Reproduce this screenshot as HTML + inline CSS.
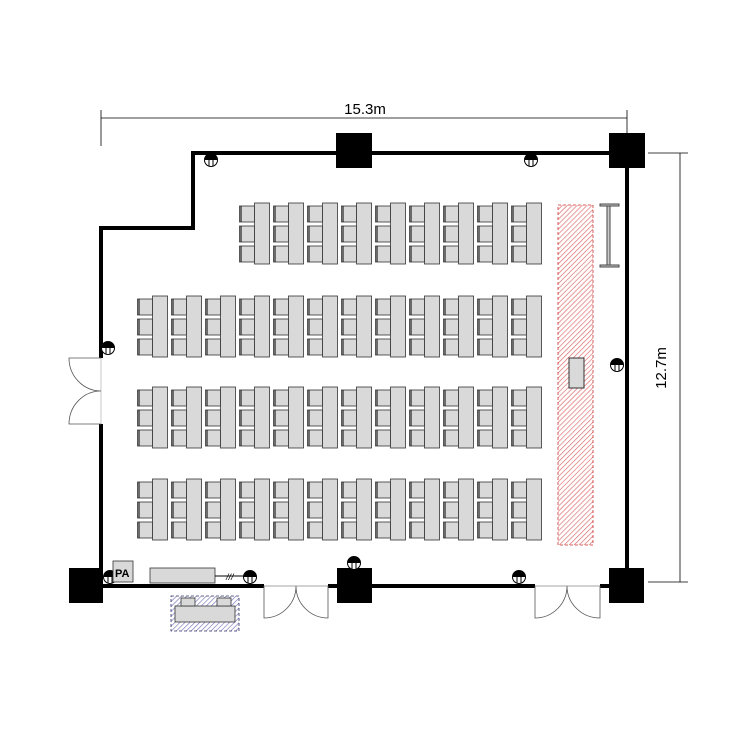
<!DOCTYPE html>
<html><head><meta charset="utf-8"><style>body{margin:0;background:#fff}svg{display:block}</style></head><body>
<svg width="750" height="750" viewBox="0 0 750 750" xmlns="http://www.w3.org/2000/svg">
<defs>
<pattern id="red" width="3.5" height="3.5" patternUnits="userSpaceOnUse" patternTransform="rotate(45)"><rect width="4" height="4" fill="#fff"/><line x1="0" y1="0" x2="0" y2="4" stroke="#d66" stroke-width="1.3"/></pattern>
<pattern id="blue" width="3.5" height="3.5" patternUnits="userSpaceOnUse" patternTransform="rotate(45)"><rect width="4" height="4" fill="#fff"/><line x1="0" y1="0" x2="0" y2="4" stroke="#77b" stroke-width="1.3"/></pattern>
<g id="set">
<rect x="0.5" y="3" width="15" height="16" fill="#d9d9d9" stroke="#333" stroke-width="0.8"/>
<rect x="0.5" y="23" width="15" height="16" fill="#d9d9d9" stroke="#333" stroke-width="0.8"/>
<rect x="0.5" y="43" width="15" height="16" fill="#d9d9d9" stroke="#333" stroke-width="0.8"/>
<line x1="2" y1="3" x2="2" y2="19" stroke="#222" stroke-width="1.2"/>
<line x1="2" y1="23" x2="2" y2="39" stroke="#222" stroke-width="1.2"/>
<line x1="2" y1="43" x2="2" y2="59" stroke="#222" stroke-width="1.2"/>
<rect x="15.5" y="0" width="15" height="61" fill="#d9d9d9" stroke="#333" stroke-width="0.8"/>
</g>
<g id="out"><circle r="6.5" fill="#fff" stroke="#000"/><path d="M-6.5,0 A6.5,6.5 0 0 1 6.5,0Z" fill="#000"/><line x1="-2" y1="0" x2="-2" y2="6" stroke="#000"/><line x1="2" y1="0" x2="2" y2="6" stroke="#000"/></g>
</defs>
<line x1="101" y1="118" x2="627" y2="118" stroke="#000" stroke-width="0.8"/>
<line x1="101" y1="110" x2="101" y2="146" stroke="#000" stroke-width="0.8"/>
<line x1="627" y1="110" x2="627" y2="135" stroke="#000" stroke-width="0.8"/>
<text x="365" y="114" font-family="Liberation Sans, sans-serif" font-size="15" text-anchor="middle">15.3m</text>
<line x1="680" y1="153" x2="680" y2="582" stroke="#000" stroke-width="0.8"/>
<line x1="648" y1="153" x2="688" y2="153" stroke="#000" stroke-width="0.8"/>
<line x1="648" y1="582" x2="688" y2="582" stroke="#000" stroke-width="0.8"/>
<text transform="translate(666,368) rotate(-90)" font-family="Liberation Sans, sans-serif" font-size="15" text-anchor="middle">12.7m</text>
<path d="M101,358 V228 H193 V153 H627 V586" fill="none" stroke="#000" stroke-width="4"/>
<line x1="101" y1="424" x2="101" y2="586" stroke="#000" stroke-width="4"/>
<line x1="101" y1="586" x2="264" y2="586" stroke="#000" stroke-width="4"/>
<line x1="328" y1="586" x2="535" y2="586" stroke="#000" stroke-width="4"/>
<line x1="600" y1="586" x2="627" y2="586" stroke="#000" stroke-width="4"/>
<g fill="none" stroke="#555" stroke-width="0.8">
<line x1="101" y1="358" x2="101" y2="424" stroke="#bbb"/>
<path d="M101,358 H69 A32,33 0 0 0 101,391 M101,424 H69 A32,33 0 0 1 101,391"/>
<line x1="264" y1="586" x2="328" y2="586" stroke="#888"/>
<path d="M264,586 V618 A32,32 0 0 0 296,586 M328,586 V618 A32,32 0 0 1 296,586"/>
<line x1="535" y1="586" x2="600" y2="586" stroke="#888"/>
<path d="M535,586 V618 A32,32 0 0 0 567,586 M600,586 V618 A33,32 0 0 1 567,586"/>
</g>
<rect x="336" y="133" width="36" height="35"/>
<rect x="609" y="133" width="36" height="35"/>
<rect x="69" y="568" width="34" height="35"/>
<rect x="337" y="568" width="35" height="35"/>
<rect x="609" y="568" width="35" height="35"/>
<g>
<use href="#set" x="239" y="203"/><use href="#set" x="273" y="203"/><use href="#set" x="307" y="203"/><use href="#set" x="341" y="203"/><use href="#set" x="375" y="203"/><use href="#set" x="409" y="203"/><use href="#set" x="443" y="203"/><use href="#set" x="477" y="203"/><use href="#set" x="511" y="203"/>
</g>
<g id="row"><use href="#set" x="137" y="296"/><use href="#set" x="171" y="296"/><use href="#set" x="205" y="296"/><use href="#set" x="239" y="296"/><use href="#set" x="273" y="296"/><use href="#set" x="307" y="296"/><use href="#set" x="341" y="296"/><use href="#set" x="375" y="296"/><use href="#set" x="409" y="296"/><use href="#set" x="443" y="296"/><use href="#set" x="477" y="296"/><use href="#set" x="511" y="296"/></g>
<use href="#row" y="91"/>
<use href="#row" y="183"/>
<rect x="558" y="205" width="35" height="340" fill="url(#red)" stroke="#c33" stroke-width="0.8" stroke-dasharray="3,2"/>
<rect x="569" y="358" width="15" height="30" fill="#d9d9d9" stroke="#333"/>
<g stroke="#444" fill="#ccc"><rect x="600" y="204" width="19" height="2"/><rect x="600" y="265" width="19" height="2"/><rect x="607" y="206" width="3" height="59"/></g>
<use href="#out" x="211" y="160"/><use href="#out" x="531" y="160"/><use href="#out" x="108" y="348"/><use href="#out" x="617" y="365"/><use href="#out" x="110" y="577"/><use href="#out" x="250" y="577"/><use href="#out" x="354" y="563"/><use href="#out" x="519" y="577"/>
<rect x="113" y="561" width="20" height="21" fill="#d9d9d9" stroke="#333" stroke-width="0.8"/>
<text x="115" y="577" font-family="Liberation Sans, sans-serif" font-size="11" font-weight="bold">PA</text>
<rect x="150" y="568" width="65" height="15" fill="#d9d9d9" stroke="#333" stroke-width="0.8"/>
<line x1="215" y1="576" x2="244" y2="576" stroke="#000"/>
<text x="226" y="580" font-family="Liberation Sans, sans-serif" font-size="9" font-style="italic">///</text>
<rect x="171" y="596" width="68" height="35" fill="url(#blue)" stroke="#336" stroke-width="0.8" stroke-dasharray="3,2"/>
<rect x="175" y="606" width="60" height="16" fill="#d9d9d9" stroke="#333" stroke-width="0.8"/>
<rect x="181" y="598" width="14" height="8" fill="#d9d9d9" stroke="#333" stroke-width="0.8"/>
<rect x="217" y="598" width="14" height="8" fill="#d9d9d9" stroke="#333" stroke-width="0.8"/>
</svg>
</body></html>
